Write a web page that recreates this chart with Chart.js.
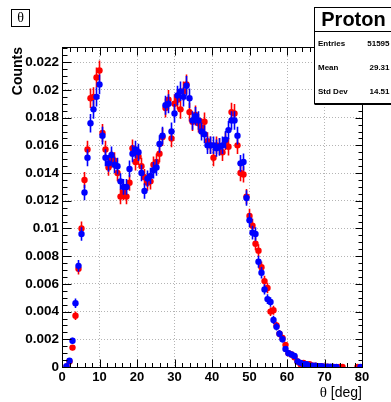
<!DOCTYPE html>
<html>
<head>
<meta charset="utf-8">
<script src="https://cdn.jsdelivr.net/npm/chart.js@4.4.0/dist/chart.umd.min.js"></script>
<style>
  html, body { margin: 0; padding: 0; background: #fff; }
  #wrap { width: 391px; height: 402px; }
</style>
</head>
<body>
<div id="wrap"><canvas id="thetaChart" width="391" height="402"></canvas></div>
<script>
// histogram binning (100 bins of 0.8 deg from 0 to 80)
const BIN_LO = 0;
const BIN_W = 0.8;
const N_BINS = 100;

// normalised counts per bin (null = empty bin)
const redCounts = [
  null, 0.00003, 0.0004, 0.0014, 0.0037, 0.0071, 0.0100, 0.0135, 0.0157, 0.0194,
  0.0195, 0.0209, 0.0214, 0.0169, 0.0157, 0.0144, 0.0150, 0.0149, 0.0140, 0.0123,
  0.0126, 0.0123, 0.0133, 0.0158, 0.0148, 0.0152, 0.0145, 0.0137, 0.0133, 0.0134,
  0.0146, 0.0148, 0.0154, 0.0166, 0.0187, 0.0193, 0.0165, 0.0190, 0.0193, 0.0186,
  0.0199, 0.0204, 0.0184, 0.0177, 0.0182, 0.0176, 0.0173, 0.0177, 0.0163, 0.0160,
  0.0151, 0.0160, 0.0159, 0.0155, 0.0163, 0.0159, 0.0184, 0.0183, 0.0160, 0.0140,
  0.0139, 0.0123, 0.0109, 0.0102, 0.0089, 0.0084, 0.0072, 0.0062, 0.0057, 0.0040,
  0.0041, 0.0030, 0.0024, 0.0021, 0.0016, 0.0010, 0.0009, 0.0007, 0.0004, 0.0002,
  0.0003, 0.0002, 0.0002, 0.0001, 0.0001, 0.00005, 0.00005, 0.00003, 0.00002, null,
  0.00001, null, 0.00001, 0.00001, null, null, null, null, 0.00001, null
];
const blueCounts = [
  null, 0.00005, 0.00045, 0.0019, 0.0046, 0.0073, 0.0096, 0.0126, 0.0151, 0.0176,
  0.0186, 0.0195, 0.0204, 0.0167, 0.0151, 0.0147, 0.0153, 0.0146, 0.0145, 0.0134,
  0.0130, 0.0130, 0.0143, 0.0154, 0.0157, 0.0155, 0.0140, 0.0127, 0.0136, 0.0138,
  0.0142, 0.0144, 0.0161, 0.0167, 0.0189, 0.0190, 0.0170, 0.0183, 0.0196, 0.0199,
  0.0195, 0.0203, 0.0194, 0.0178, 0.0181, 0.0178, 0.0170, 0.0168, 0.0160, 0.0160,
  0.0160, 0.0158, 0.0159, 0.0160, 0.0164, 0.0171, 0.0178, 0.0178, 0.0167, 0.0147,
  0.0148, 0.0122, 0.0106, 0.0097, 0.0096, 0.0076, 0.0068, 0.0056, 0.0049, 0.0047,
  0.0034, 0.0029, 0.0024, 0.0020, 0.0013, 0.0010, 0.0009, 0.0008, 0.0004, 0.0003,
  0.0002, 0.0002, 0.0001, 0.0001, 0.0001, 0.00005, 0.00005, 0.00003, 0.00002, 0.00002,
  0.00001, 0.00001, null, null, null, null, null, null, null, 0.00001
];

// stats box
const statsTitle = 'Proton';
const statsLabels = ['Entries', 'Mean', 'Std Dev'];
const statsValues = ['51595', '29.31', '14.51'];

// effective entries used for the poisson error bars
const ERR_NORM = 40000;

const X_MAX = 80;
const Y_MAX = 0.0231;

function toPoints(counts) {
    const pts = [];
    counts.forEach((c, i) => {
        if (c === null) return;
        pts.push({ x: BIN_LO + BIN_W * (i + 0.5), y: c });
    });
    return pts;
}

const SANS = "'Liberation Sans', Arial, Helvetica, sans-serif";
const SERIF = "'Liberation Serif', 'DejaVu Serif', serif";

const rootStyle = {
    id: 'rootStyle',
    beforeDatasetDraw(chart, args) {
        const ctx = chart.ctx;
        const xs = chart.scales.x, ys = chart.scales.y;
        const ds = chart.data.datasets[args.index];
        const a = chart.chartArea;
        ctx.save();
        ctx.beginPath();
        ctx.rect(a.left, a.top, a.right - a.left, a.bottom - a.top);
        ctx.clip();
        ctx.strokeStyle = ds.pointBackgroundColor;
        ctx.lineWidth = 1.6;
        ds.data.forEach(p => {
            const err = Math.sqrt(p.y / ERR_NORM);
            const px = xs.getPixelForValue(p.x);
            const py = ys.getPixelForValue(p.y);
            ctx.beginPath();
            ctx.moveTo(px, ys.getPixelForValue(p.y + err));
            ctx.lineTo(px, ys.getPixelForValue(Math.max(0, p.y - err)));
            ctx.moveTo(xs.getPixelForValue(p.x - BIN_W / 2), py);
            ctx.lineTo(xs.getPixelForValue(p.x + BIN_W / 2), py);
            ctx.stroke();
        });
        ctx.restore();
    },
    afterDraw(chart) {
        const ctx = chart.ctx;
        const xs = chart.scales.x, ys = chart.scales.y;
        const a = chart.chartArea;
        const L = a.left + 0.5, R = a.right + 0.5, T = a.top + 0.5, B = a.bottom + 0.5;
        ctx.save();

        // frame
        ctx.strokeStyle = '#000';
        ctx.lineWidth = 1;
        ctx.strokeRect(L, T, R - L, B - T);

        // inward ticks, x axis (major every 10, minor every 2)
        ctx.beginPath();
        for (let i = 0; i * 2 <= X_MAX; i++) {
            const px = Math.round(xs.getPixelForValue(i * 2)) + 0.5;
            const len = (i % 5 === 0) ? 8 : 4.5;
            ctx.moveTo(px, B); ctx.lineTo(px, B - len);
            ctx.moveTo(px, T); ctx.lineTo(px, T + len);
        }
        // y axis (major every 0.002, minor every 0.0005)
        for (let i = 0; i * 0.0005 <= Y_MAX + 1e-9; i++) {
            const py = Math.round(ys.getPixelForValue(i * 0.0005)) + 0.5;
            const major = (i % 4 === 0);
            ctx.moveTo(L, py); ctx.lineTo(L + (major ? 9 : 5), py);
            ctx.moveTo(R, py); ctx.lineTo(R - (major ? 7 : 4), py);
        }
        ctx.stroke();

        // axis titles
        ctx.fillStyle = '#000';
        ctx.save();
        ctx.translate(18.5, a.top);
        ctx.rotate(-Math.PI / 2);
        ctx.font = 'bold 14px ' + SANS;
        ctx.textAlign = 'right';
        ctx.textBaseline = 'middle';
        ctx.fillText('Counts', 0, 0);
        ctx.restore();

        ctx.textBaseline = 'middle';
        ctx.textAlign = 'right';
        ctx.font = '14px ' + SANS;
        const unit = ' [deg]';
        ctx.fillText(unit, a.right, 393);
        const uw = ctx.measureText(unit).width;
        ctx.font = '15px ' + SERIF;
        ctx.fillText('\u03b8', a.right - uw, 393);

        // title box
        ctx.fillStyle = '#fff';
        ctx.fillRect(11.5, 9.5, 18, 17);
        ctx.strokeRect(11.5, 9.5, 18, 17);
        ctx.fillStyle = '#000';
        ctx.textAlign = 'center';
        ctx.font = '14px ' + SERIF;
        ctx.fillText('\u03b8', 20.5, 18.5);

        // stats box
        ctx.fillStyle = '#fff';
        ctx.fillRect(314.5, 7.5, 90, 96);
        ctx.strokeRect(314.5, 7.5, 90, 96);
        ctx.beginPath();
        ctx.moveTo(314.5, 31.5); ctx.lineTo(404, 31.5);
        ctx.moveTo(314.5, 104.5); ctx.lineTo(404, 104.5);
        ctx.stroke();
        ctx.fillStyle = '#000';
        ctx.font = 'bold 20px ' + SANS;
        ctx.textAlign = 'center';
        ctx.fillText(statsTitle, 353.5, 20);
        ctx.font = 'bold 8px ' + SANS;
        const rowY = [43.5, 67.5, 91.5];
        statsLabels.forEach((lab, i) => {
            ctx.textAlign = 'left';
            ctx.fillText(lab, 318, rowY[i]);
            ctx.textAlign = 'right';
            ctx.fillText(statsValues[i], 389.5, rowY[i]);
        });
        ctx.restore();
    }
};

const ctx = document.getElementById('thetaChart').getContext('2d');

new Chart(ctx, {
    type: 'scatter',
    data: {
        datasets: [
            {
                label: 'blue',
                data: toPoints(blueCounts),
                order: 0,
                pointRadius: 3.2,
                pointHoverRadius: 3.2,
                pointBorderWidth: 0,
                pointBackgroundColor: '#0000ff',
                pointBorderColor: '#0000ff',
                showLine: false
            },
            {
                label: 'red',
                data: toPoints(redCounts),
                order: 1,
                pointRadius: 3.2,
                pointHoverRadius: 3.2,
                pointBorderWidth: 0,
                pointBackgroundColor: '#ff0000',
                pointBorderColor: '#ff0000',
                showLine: false
            }
        ]
    },
    options: {
        responsive: false,
        animation: false,
        devicePixelRatio: 1,
        events: [],
        layout: { padding: { top: 47, right: 29, bottom: 0, left: 0 } },
        plugins: {
            legend: { display: false },
            tooltip: { enabled: false },
            title: { display: false }
        },
        scales: {
            x: {
                type: 'linear',
                min: 0,
                max: X_MAX,
                afterFit(scale) { scale.height = 35; },
                grid: { color: '#b4b4b4', lineWidth: 1, drawTicks: false },
                border: { display: false, dash: [1, 2] },
                ticks: {
                    stepSize: 10,
                    includeBounds: false,
                    autoSkip: false,
                    maxRotation: 0,
                    padding: 3,
                    color: '#000',
                    font: { family: SANS, size: 13, weight: 'bold' }
                }
            },
            y: {
                type: 'linear',
                min: 0,
                max: Y_MAX,
                afterFit(scale) { scale.width = 62; },
                grid: { color: '#b4b4b4', lineWidth: 1, drawTicks: false },
                border: { display: false, dash: [1, 2] },
                ticks: {
                    stepSize: 0.002,
                    includeBounds: false,
                    autoSkip: false,
                    padding: 3,
                    color: '#000',
                    font: { family: SANS, size: 13.5, weight: 'bold' },
                    callback: v => String(+v.toFixed(4))
                }
            }
        }
    },
    plugins: [rootStyle]
});
</script>
</body>
</html>
